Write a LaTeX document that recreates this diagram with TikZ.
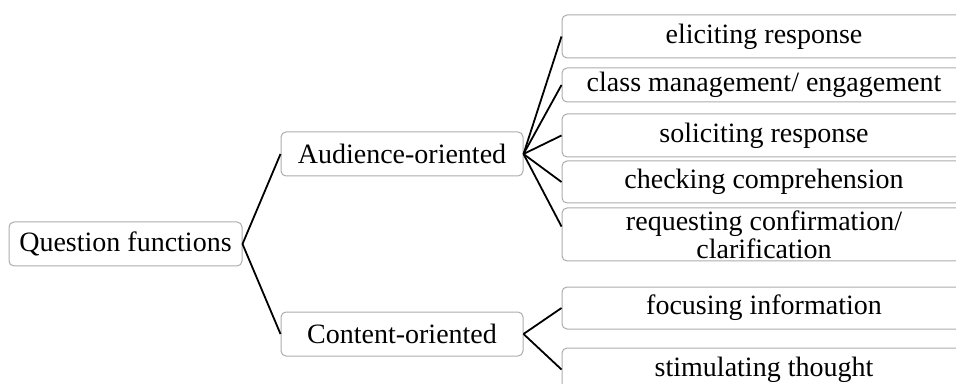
\documentclass[tikz,border=0pt]{standalone}
\usepackage{fontspec}
\setmainfont{Liberation Serif}
\usepackage{tikz}

\begin{document}
\begin{tikzpicture}[x=0.5pt, y=-0.5pt,
			 caja/.style={draw=gray!65, line width=0.5pt, rounded corners=2.5pt, inner sep=0pt, align=center, font=\fontsize{14}{14}\selectfont},
			 rama/.style={line width=0.9pt, black}
  		]
	\useasboundingbox (0,0) rectangle (956,384);

	%Creamos las cajas
		\node[caja, minimum width=116.5pt, minimum height=22pt] (qf) at (125.5,244) {Question functions};
		\node[caja, minimum width=121pt, minimum height=22pt] (aud) at (402,154) {Audience-oriented};
		\node[caja, minimum width=121pt, minimum height=22pt] (con) at (402,334) {Content-oriented};
	%Cajas de la derecha
		\node[caja, minimum width=202pt, minimum height=21.5pt] (eli) at (764,36.5) {eliciting response};
		\node[caja, minimum width=202pt, minimum height=17pt] (cla) at (764,85) {class management/ engagement};
		\node[caja, minimum width=202pt, minimum height=21.5pt] (sol) at (764,135.5) {soliciting response};
		\node[caja, minimum width=202pt, minimum height=21pt] (che) at (764,182) {checking comprehension};
		\node[caja, minimum width=202pt, minimum height=26.5pt] (req) at (764,234.5) {requesting confirmation/\\clarification};
		\node[caja, minimum width=202pt, minimum height=21pt] (foc) at (764,308) {focusing information};
		\node[caja, minimum width=202pt, minimum height=21.5pt] (sti) at (764,369.5) {stimulating thought};
	%Ramas de la raiz
		\draw[rama] (qf.east) -- (aud.west);
		\draw[rama] (qf.east) -- (con.west);
	%Ramas de Audience-oriented
		\draw[rama] (aud.east) -- (eli.west);
		\draw[rama] (aud.east) -- (cla.west);
		\draw[rama] (aud.east) -- (sol.west);
		\draw[rama] (aud.east) -- (che.west);
		\draw[rama] (aud.east) -- ([yshift=4pt]req.west);
	%Ramas de Content-oriented
		\draw[rama] (con.east) -- (foc.west);
		\draw[rama] (con.east) -- (sti.west);
	\end{tikzpicture}
\end{document}
